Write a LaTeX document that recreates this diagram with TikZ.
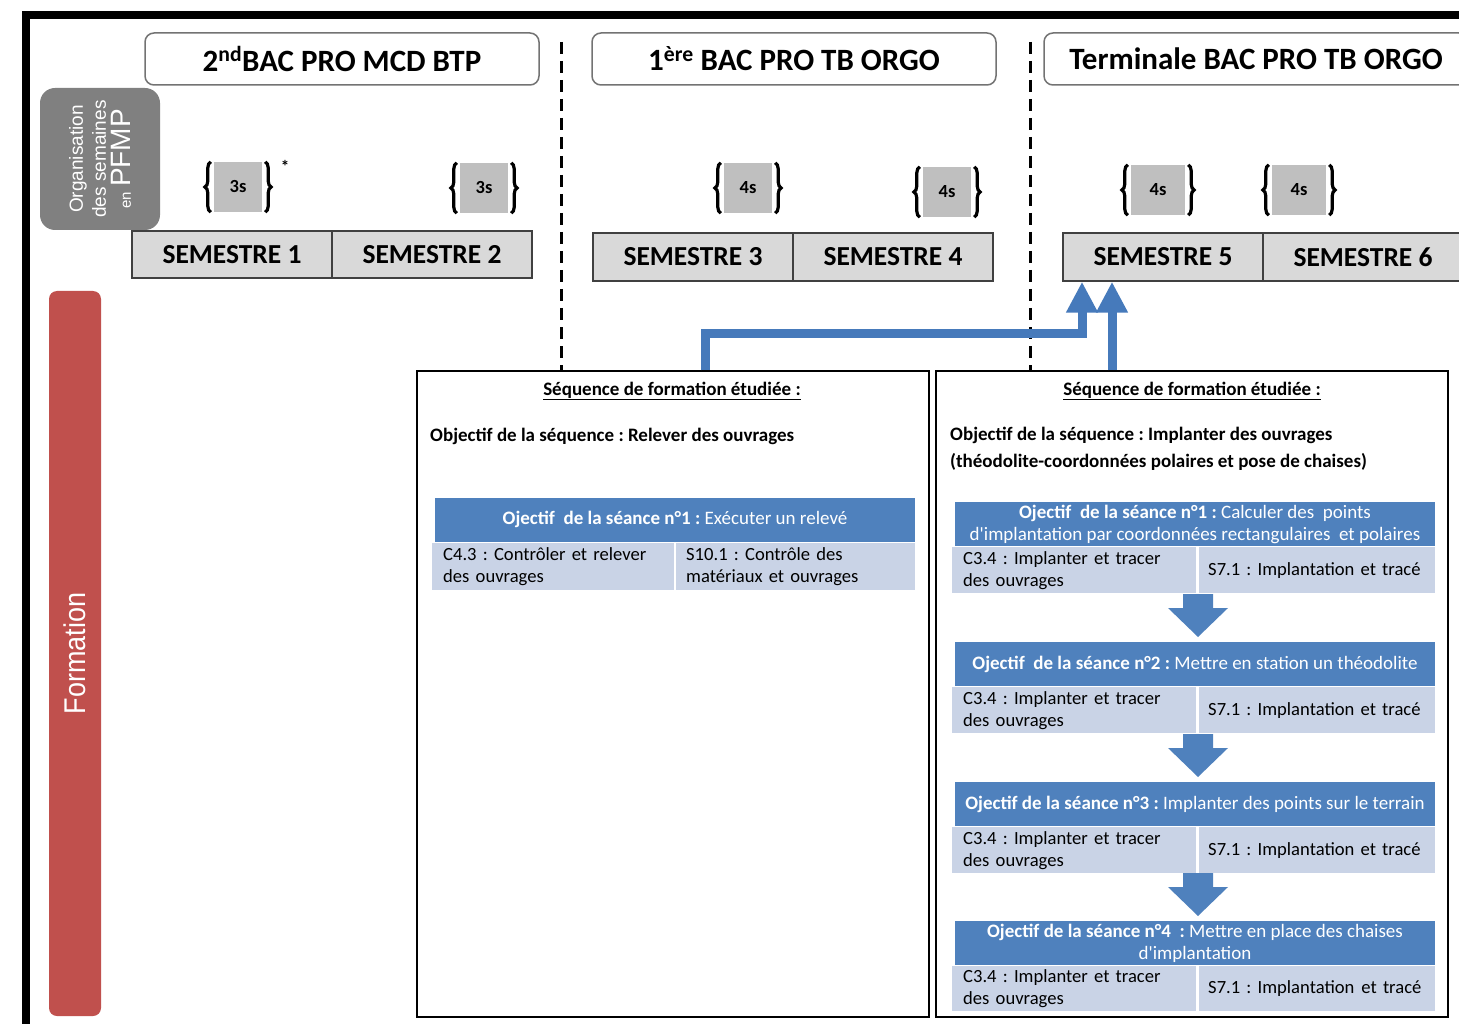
\documentclass[tikz,border=0pt]{standalone}
\usepackage{fontspec}
\setmainfont{Carlito}
\newfontfamily\arialfont{Liberation Sans}
\newfontfamily\narrowfont[FakeStretch=0.9]{Liberation Sans}
\usetikzlibrary{decorations.pathreplacing,arrows.meta}
\definecolor{hdblue}{RGB}{79,129,189}
\definecolor{rowblue}{RGB}{201,211,230}
\definecolor{linkblue}{RGB}{70,122,187}
\definecolor{formred}{RGB}{192,80,77}
\definecolor{pfmpgray}{RGB}{128,128,128}
\definecolor{semgray}{RGB}{217,217,217}
\definecolor{weekgray}{RGB}{191,191,191}
\frenchspacing

\begin{document}
\begin{tikzpicture}[x=1pt,y=-1pt, %pixel grid, y going down
        yearbox/.style={draw=black!55,line width=1.5,rounded corners=9,fill=white,minimum height=52,font=\fontsize{31}{31}\selectfont\bfseries},
        sembox/.style={draw=black!75,line width=1.5,fill=semgray,minimum width=200,minimum height=47,font=\fontsize{27.5}{27.5}\selectfont\bfseries},
        weekbox/.style={fill=weekgray,minimum width=48,minimum height=50,inner sep=0,font=\fontsize{18.5}{18.5}\selectfont\bfseries},
        curly/.style={decorate,decoration={brace,amplitude=6},line width=3.2},
        yearsep/.style={line width=3,dash pattern=on 12 off 7},
        seqbox/.style={draw=black,line width=1.2,minimum width=512,minimum height=646},
        hdbox/.style={fill=hdblue,text=white,minimum width=480,minimum height=44,inner sep=1,align=center,font=\fontsize{19}{22}\selectfont},
        cell/.style={fill=rowblue,anchor=north west,minimum height=46,inner ysep=0,align=left,font=\fontsize{18.6}{22}\selectfont},
        txt/.style={anchor=west,inner sep=0,align=left,font=\fontsize{19}{27}\selectfont\bfseries},
        link/.style={linkblue,line width=9,-{Triangle[width=30,length=31]}},
        downarrow/.pic={\fill[hdblue] (-15,0) -- (15,0) -- (15,14) -- (30,14) -- (0,43) -- (-30,14) -- (-15,14) -- cycle;}]
        \clip (0,0) rectangle (1459,1024);
        \useasboundingbox (0,0) rectangle (1459,1024);
        \draw[line width=8] (26,1030) -- (26,15) -- (1470,15);
        % years
        \node[yearbox,minimum width=394] (yr1) at (342,59) {2\textsuperscript{nd}BAC PRO MCD BTP};
        \node[yearbox,minimum width=404] (yr2) at (794,59) {1\textsuperscript{ère} BAC PRO TB ORGO};
        \node[yearbox,minimum width=424] (yr3) at (1256,59) {Terminale BAC PRO TB ORGO};
        \draw[yearsep] (561,42) -- (561,371);
        \draw[yearsep] (1030,42) -- (1030,371);
        % side labels
        \node[rotate=90,fill=pfmpgray,rounded corners=15,minimum width=142,minimum height=120,text=white,align=center,font=\arialfont\fontsize{19}{23}\selectfont] (pfmp) at (100,159)
                {Organisation\\des semaines\\[2]{\fontsize{15}{15}\selectfont en} {\fontsize{28}{28}\selectfont PFMP}};
        \node[rotate=90,fill=formred,rounded corners=8,minimum width=725,minimum height=52,text=white,font=\narrowfont\fontsize{30}{30}\selectfont] (form) at (75,653.5) {Formation};
        % weeks of PFMP
        \node[weekbox] (w1) at (238,187) {3s};
        \draw[curly] ([xshift=-3]w1.south west) -- ([xshift=-3]w1.north west);
        \draw[curly] ([xshift=3]w1.north east) -- ([xshift=3]w1.south east);
        \node[font=\fontsize{17}{17}\selectfont\bfseries] (star) at (285,166) {*};
        \node[weekbox] (w2) at (484,188) {3s};
        \draw[curly] ([xshift=-3]w2.south west) -- ([xshift=-3]w2.north west);
        \draw[curly] ([xshift=3]w2.north east) -- ([xshift=3]w2.south east);
        \node[weekbox] (w3) at (748,188) {4s};
        \draw[curly] ([xshift=-3]w3.south west) -- ([xshift=-3]w3.north west);
        \draw[curly] ([xshift=3]w3.north east) -- ([xshift=3]w3.south east);
        \node[weekbox] (w4) at (947,192) {4s};
        \draw[curly] ([xshift=-3]w4.south west) -- ([xshift=-3]w4.north west);
        \draw[curly] ([xshift=3]w4.north east) -- ([xshift=3]w4.south east);
        \node[weekbox,minimum width=54] (w5) at (1158,190) {4s};
        \draw[curly] ([xshift=-3]w5.south west) -- ([xshift=-3]w5.north west);
        \draw[curly] ([xshift=3]w5.north east) -- ([xshift=3]w5.south east);
        \node[weekbox,minimum width=54] (w6) at (1299,190) {4s};
        \draw[curly] ([xshift=-3]w6.south west) -- ([xshift=-3]w6.north west);
        \draw[curly] ([xshift=3]w6.north east) -- ([xshift=3]w6.south east);
        % semesters
        \node[sembox] (S1) at (232,254.5) {SEMESTRE 1};
        \node[sembox] (S2) at (432,254.5) {SEMESTRE 2};
        \node[sembox,minimum height=48] (S3) at (693,257) {SEMESTRE 3};
        \node[sembox,minimum height=48] (S4) at (893,257) {SEMESTRE 4};
        \node[sembox,minimum height=48] (S5) at (1163,257) {SEMESTRE 5};
        \node[sembox,minimum height=48] (S6) at (1363,257) {SEMESTRE 6};
        % sequence 1
        \node[seqbox] (seqA) at (673,694) {};
        \node[font=\fontsize{19}{22}\selectfont\bfseries] (ttlA) at (672,391) {\underline{Séquence de formation étudiée :}};
        \node[txt] (objA) at (430,436) {Objectif de la séquence : Relever des ouvrages};
        \node[hdbox] (hdA1) at (675,519.5) {\textbf{Ojectif\ \ de la séance n°1 :} Exécuter un relevé};
        \node[cell,inner xsep=11,text width=220,minimum height=47] (cA1) at (432,543) {C4.3 : Contrôler et relever\\des ouvrages};
        \node[cell,inner xsep=10,text width=219,minimum height=47] (sA1) at (676,543) {S10.1 : Contrôle des\\matériaux et ouvrages};
        % sequence 2
        \node[seqbox] (seqB) at (1192,694) {};
        \node[font=\fontsize{19}{22}\selectfont\bfseries] (ttlB) at (1192,391) {\underline{Séquence de formation étudiée :}};
        \node[txt] (objB) at (950,448.5) {Objectif de la séquence : Implanter des ouvrages\\(théodolite-coordonnées polaires et pose de chaises)};
        \node[hdbox] (hdB1) at (1195,524) {\textbf{Ojectif\ \ de la séance n°1 :} Calculer des\ \ points\\d\textquotesingle implantation par coordonnées rectangulaires\ \ et polaires};
        \node[cell,inner xsep=11,text width=222] (cB1) at (952,547) {C3.4 : Implanter et tracer\\des ouvrages};
        \node[cell,inner xsep=9,text width=218] (sB1) at (1199,547) {S7.1 : Implantation et tracé};
        \pic at (1198,594) {downarrow};
        \node[hdbox] (hdB2) at (1195,664) {\textbf{Ojectif\ \ de la séance n°2 :} Mettre en station un théodolite};
        \node[cell,inner xsep=11,text width=222] (cB2) at (952,687) {C3.4 : Implanter et tracer\\des ouvrages};
        \node[cell,inner xsep=9,text width=218] (sB2) at (1199,687) {S7.1 : Implantation et tracé};
        \pic at (1198,734) {downarrow};
        \node[hdbox] (hdB3) at (1195,804) {\textbf{Ojectif de la séance n°3 :} Implanter des points sur le terrain};
        \node[cell,inner xsep=11,text width=222] (cB3) at (952,827) {C3.4 : Implanter et tracer\\des ouvrages};
        \node[cell,inner xsep=9,text width=218] (sB3) at (1199,827) {S7.1 : Implantation et tracé};
        \pic at (1198,873) {downarrow};
        \node[hdbox] (hdB4) at (1195,943) {\textbf{Ojectif de la séance n°4\ \ :} Mettre en place des chaises\\d\textquotesingle implantation};
        \node[cell,inner xsep=11,text width=222,minimum height=45] (cB4) at (952,966) {C3.4 : Implanter et tracer\\des ouvrages};
        \node[cell,inner xsep=9,text width=218,minimum height=45] (sB4) at (1199,966) {S7.1 : Implantation\hspace{7pt}et tracé};
        % links to semestre 5
        \coordinate (bendA) at (705,333);
        \coordinate (bendB) at (1082,333);
        \coordinate (riseB) at (1112,333);
        \draw[link] (seqA.north -| bendA) -- (bendA) -- (bendB) -- (bendB |- S5.south);
        \draw[link] (seqB.north -| riseB) -- (riseB |- S5.south);
\end{tikzpicture}
\end{document}
